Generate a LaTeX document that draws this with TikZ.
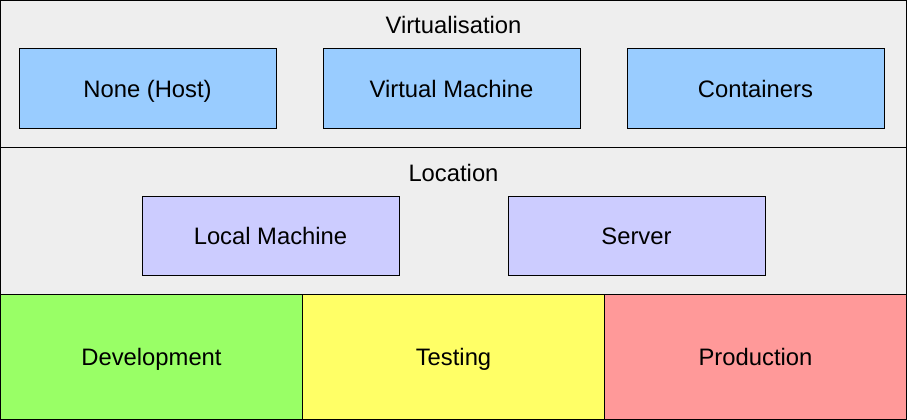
\documentclass[tikz,border=0pt]{standalone}
\usepackage{fontspec}
\setmainfont{Liberation Sans}
\definecolor{bandgray}{HTML}{EEEEEE}
\definecolor{virtblue}{HTML}{99CCFF}
\definecolor{locpurple}{HTML}{CCCCFF}
\definecolor{devgreen}{HTML}{99FF66}
\definecolor{testyellow}{HTML}{FFFF66}
\definecolor{prodred}{HTML}{FF9999}
\begin{document}
\begin{tikzpicture}[x=1pt,y=-1pt,
  every node/.style={font=\fontsize{23.8}{26}\selectfont, text=black,
    text height=17pt, text depth=0pt},
  band/.style={draw=black, line width=1pt, fill=bandgray},
  item/.style={draw=black, line width=1pt, minimum width=257pt, minimum height=79pt, inner sep=0pt},
  stage/.style={draw=black, line width=1pt, minimum width=302pt, minimum height=125pt, inner sep=0pt},
  title/.style={inner sep=0pt}]
\useasboundingbox (0,0) rectangle (907,420);
% layered bands
\draw[band] (0.5,0.5) rectangle (906.5,147.5);
\draw[band] (0.5,147.5) rectangle (906.5,294.5);
% virtualisation layer
\node[title] (virt) at (453.5,25) {Virtualisation};
\node[item, fill=virtblue] (host) at (147.5,88.5) {None (Host)};
\node[item, fill=virtblue] (vm) at (451.5,88.5) {Virtual Machine};
\node[item, fill=virtblue] (cont) at (755.5,88.5) {Containers};
% location layer
\node[title] (loc) at (453.5,173) {Location};
\node[item, fill=locpurple] (local) at (270.5,235.5) {Local Machine};
\node[item, fill=locpurple] (server) at (636.5,235.5) {Server};
% stages
\node[stage, fill=devgreen] (dev) at (151.5,357) {Development};
\node[stage, fill=testyellow] (test) at (453.5,357) {Testing};
\node[stage, fill=prodred] (prod) at (755.5,357) {Production};
\end{tikzpicture}
\end{document}
